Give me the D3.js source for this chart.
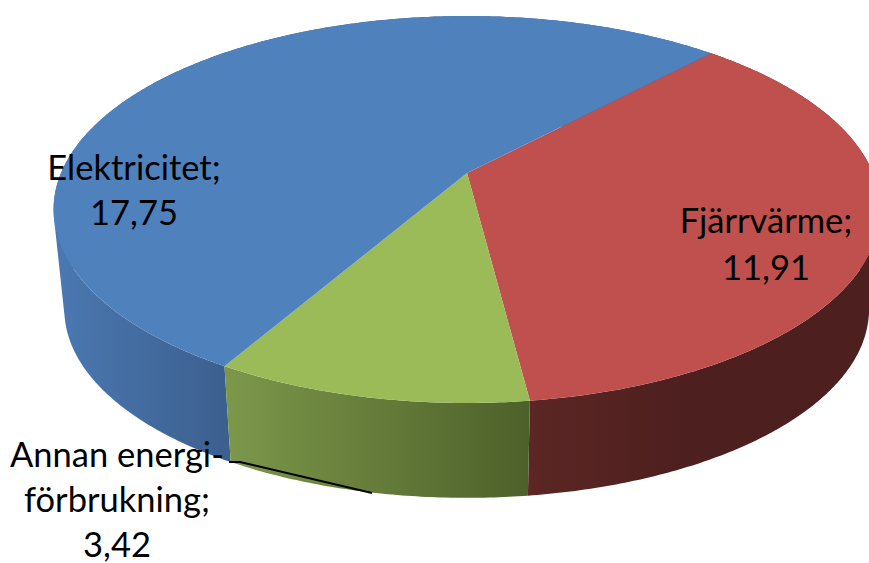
<!DOCTYPE html>
<html>
<head>
<meta charset="utf-8">
<script src="https://cdnjs.cloudflare.com/ajax/libs/d3/7.8.5/d3.min.js"></script>
<style>
    html, body { margin: 0; padding: 0; background: #fff; overflow: hidden; }
    text { font-family: Lato, "Open Sans", sans-serif; fill: #000; }
</style>
</head>
<body>
<script>
/*
** Chart data
 */
var categories = ['Fjärrvärme', 'Annan energiförbrukning', 'Elektricitet'];
var values = [11.91, 3.42, 17.75];
var labelLines = [['Fjärrvärme;'], ['Annan energi-', 'förbrukning;'], ['Elektricitet;']];

var topColors = ['#c0504d', '#9bbb59', '#4f81bd'];
var sideLeftColors = ['#5c2725', '#7c974a', '#4a78b1'];
var sideRightColors = ['#4d1f1e', '#4e612a', '#3c5f8e'];
var sideDrawOrder = [2, 0, 1];

/*
** Tilted disc : perspective projection of the unit circle
 */
var width = 869, height = 563;
var apex = {x: 467, y: 173};
var persp = 0.1886, radiusX = 406, radiusY = 186.6;
var sink = {x: 455, y: 3930, t: 0.0269};   // the side walls run towards this point
var startAngle = 43.15 * Math.PI / 180;

var numberFormat = d3.formatLocale({decimal: ',', thousands: ' ', grouping: [3], currency: ['', '']}).format('.2f');

function projectTop(angle) {
    var u = Math.sin(angle), v = Math.cos(angle), w = 1 + persp * v;
    return [apex.x + radiusX * u / w, apex.y - radiusY * v / w];
}

function projectBottom(angle) {
    var p = projectTop(angle);
    return [p[0] + sink.t * (sink.x - p[0]), p[1] + sink.t * (sink.y - p[1])];
}

function arcAngles(slice) {
    var steps = Math.ceil((slice.endAngle - slice.startAngle) / 0.01);
    return d3.range(steps + 1).map(function (i) {
        return slice.startAngle + (slice.endAngle - slice.startAngle) * i / steps;
    });
}

var svg = d3.select('body').append('svg')
    .attr('width', width)
    .attr('height', height)
    .style('display', 'block');

var slices = d3.pie().sort(null).value(function (d) { return d; })
    .startAngle(startAngle)
    .endAngle(startAngle + 2 * Math.PI)(values);

/*
** Side wall gradients
 */
var defs = svg.append('defs');
var sideExtents = [[527, 869], [228, 527], [60, 228]];
slices.forEach(function (slice, i) {
    var grad = defs.append('linearGradient')
        .attr('id', 'side-' + i)
        .attr('gradientUnits', 'userSpaceOnUse')
        .attr('x1', sideExtents[i][0]).attr('x2', sideExtents[i][1])
        .attr('y1', 0).attr('y2', 0);
    grad.append('stop').attr('offset', '0').attr('stop-color', sideLeftColors[i]);
    grad.append('stop').attr('offset', i === 0 ? '0.45' : '1').attr('stop-color', sideRightColors[i]);
});

/*
** Side walls : one quad per step, all wound the same way so overlaps stay filled
 */
function sidePath(slice) {
    var angles = arcAngles(slice);
    var path = d3.path();
    for (var i = 0; i < angles.length - 1; i++) {
        var quad = [projectTop(angles[i]), projectTop(angles[i + 1]),
                    projectBottom(angles[i + 1]), projectBottom(angles[i])];
        if (d3.polygonArea(quad) < 0) { quad.reverse(); }
        path.moveTo(quad[0][0], quad[0][1]);
        path.lineTo(quad[1][0], quad[1][1]);
        path.lineTo(quad[2][0], quad[2][1]);
        path.lineTo(quad[3][0], quad[3][1]);
        path.closePath();
    }
    return path.toString();
}

svg.append('g').selectAll('path')
    .data(sideDrawOrder)
    .join('path')
    .attr('d', function (i) { return sidePath(slices[i]); })
    .attr('fill', function (i) { return 'url(#side-' + i + ')'; });

/*
** Top faces
 */
var topLine = d3.line();
svg.append('g').selectAll('path')
    .data(slices)
    .join('path')
    .attr('d', function (slice) {
        return topLine([[apex.x, apex.y]].concat(arcAngles(slice).map(projectTop))) + 'Z';
    })
    .attr('fill', function (slice, i) { return topColors[i]; });

/*
** Leader line
 */
svg.append('path')
    .attr('d', d3.line()([[229, 462], [240, 462], [372, 493]]))
    .attr('fill', 'none')
    .attr('stroke', '#000')
    .attr('stroke-width', 2);

/*
** Data labels
 */
var labelSpots = [
    {x: 766, y: 233, step: 47},
    {x: 117, y: 467, step: 45},
    {x: 134, y: 180, step: 45}
];

labelSpots.forEach(function (spot, i) {
    labelLines[i].concat([numberFormat(values[i])]).forEach(function (line, n) {
        svg.append('text')
            .attr('x', spot.x)
            .attr('y', spot.y + n * spot.step)
            .attr('text-anchor', 'middle')
            .attr('font-size', 34.5)
            .text(line);
    });
});
</script>
</body>
</html>
